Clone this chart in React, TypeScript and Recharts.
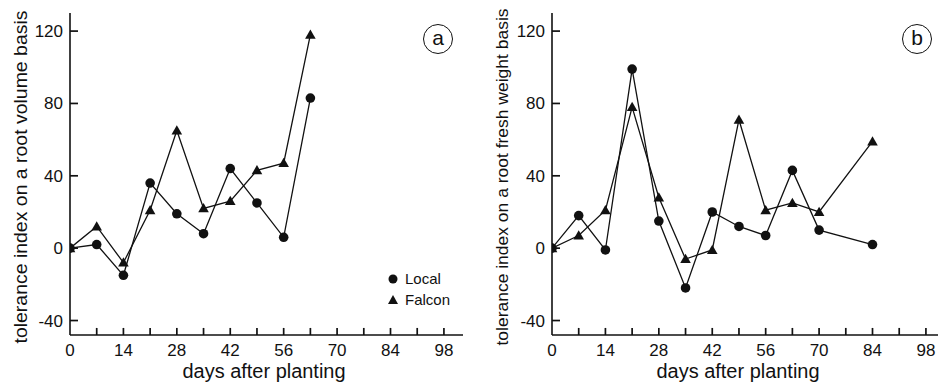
import { Legend, Line, LineChart, ReferenceLine, XAxis, YAxis } from "recharts";

const DAYS_A = [0, 7, 14, 21, 28, 35, 42, 49, 56, 63];
const LOCAL_A = [0, 2, -15, 36, 19, 8, 44, 25, 6, 83];
const FALCON_A = [0, 12, -8, 21, 65, 22, 26, 43, 47, 118];

const DAYS_B = [0, 7, 14, 21, 28, 35, 42, 49, 56, 63, 70, 84];
const LOCAL_B = [0, 18, -1, 99, 15, -22, 20, 12, 7, 43, 10, 2];
const FALCON_B = [0, 7, 21, 78, 28, -6, -1, 71, 21, 25, 20, 59];

const X_TICKS = [0, 7, 14, 21, 28, 35, 42, 49, 56, 63, 70, 77, 84, 91, 98];
const Y_TICKS = [-40, 0, 40, 80, 120];
const X_DOMAIN = [0, 103];
const Y_DOMAIN = [-48, 130];

// inward tick length, in axis units (about 7-8 px on screen)
const X_TICK_LEN = 3.9;
const Y_TICK_LEN = 2.1;

const FONT = "'Liberation Sans', Arial, Helvetica, sans-serif";
const INK = "#111";

function XTick({ x, y, payload }: any) {
  const v = payload.value;
  if (v % 14 !== 0) return <g />;
  return (
    <text x={x} y={y + 21} textAnchor="middle" fontSize={17} fontFamily={FONT} fill={INK}>
      {v}
    </text>
  );
}

function YTick({ x, y, payload }: any) {
  return (
    <text x={x - 7} y={y + 6} textAnchor="end" fontSize={17} fontFamily={FONT} fill={INK}>
      {payload.value}
    </text>
  );
}

function CircleDot({ cx, cy }: any) {
  return <circle cx={cx} cy={cy} r={4.8} fill={INK} stroke="none" />;
}

function TriDot({ cx, cy }: any) {
  const s = 5.3;
  return (
    <path
      d={`M${cx},${cy - s} L${cx + s},${cy + s * 0.75} L${cx - s},${cy + s * 0.75} Z`}
      fill={INK}
      stroke="none"
    />
  );
}

function LegendBox() {
  return (
    <div style={{ fontFamily: FONT, fontSize: 15, color: INK, lineHeight: "21px" }}>
      <div style={{ display: "flex", alignItems: "center" }}>
        <svg width={16} height={14}>
          <circle cx={7} cy={7} r={4.5} fill={INK} />
        </svg>
        <span style={{ marginLeft: 3 }}>Local</span>
      </div>
      <div style={{ display: "flex", alignItems: "center" }}>
        <svg width={16} height={14}>
          <path d="M7,2 L12,11 L2,11 Z" fill={INK} />
        </svg>
        <span style={{ marginLeft: 3 }}>Falcon</span>
      </div>
    </div>
  );
}

function Panel({
  days,
  local,
  falcon,
  width,
  yAxisWidth,
  yTitle,
  yTitleSize,
  yTitleLen,
  yTitleX,
  xTitleX,
  legend,
}: any) {
  const data = days.map((d: number, i: number) => ({ day: d, local: local[i], falcon: falcon[i] }));
  return (
    <LineChart width={width} height={389} data={data} margin={{ top: 13, right: 7, bottom: 0, left: 0 }}>
      <XAxis
        dataKey="day"
        type="number"
        domain={X_DOMAIN}
        ticks={X_TICKS}
        interval={0}
        height={54}
        tickSize={0}
        tickMargin={0}
        tickLine={false}
        tick={<XTick />}
        axisLine={{ stroke: INK, strokeWidth: 1.6 }}
        allowDataOverflow
        label={() => (
          <text
            x={xTitleX}
            y={378}
            textAnchor="middle"
            fontSize={20}
            fontFamily={FONT}
            fill={INK}
            textLength={163}
            lengthAdjust="spacingAndGlyphs"
          >
            days after planting
          </text>
        )}
      />
      <XAxis
        xAxisId="top"
        orientation="top"
        type="number"
        domain={X_DOMAIN}
        height={0}
        tick={false}
        tickLine={false}
        axisLine={{ stroke: INK, strokeWidth: 1.6 }}
      />
      <YAxis
        type="number"
        domain={Y_DOMAIN}
        ticks={Y_TICKS}
        interval={0}
        width={yAxisWidth}
        tickSize={0}
        tickMargin={0}
        tickLine={false}
        tick={<YTick />}
        axisLine={{ stroke: INK, strokeWidth: 1.6 }}
        allowDataOverflow
        label={() => (
          <text
            x={yTitleX}
            y={177}
            transform={`rotate(-90 ${yTitleX} 177)`}
            textAnchor="middle"
            fontSize={yTitleSize}
            fontFamily={FONT}
            fill={INK}
            textLength={yTitleLen}
            lengthAdjust="spacingAndGlyphs"
          >
            {yTitle}
          </text>
        )}
      />
      <YAxis
        yAxisId="right"
        orientation="right"
        type="number"
        domain={Y_DOMAIN}
        width={0}
        tick={false}
        tickLine={false}
        axisLine={{ stroke: INK, strokeWidth: 1.6 }}
      />
      {X_TICKS.slice(1).map((t) => (
        <ReferenceLine
          key={`xt${t}`}
          ifOverflow="visible"
          segment={[
            { x: t, y: Y_DOMAIN[0] },
            { x: t, y: Y_DOMAIN[0] + X_TICK_LEN },
          ]}
          stroke={INK}
          strokeWidth={1.7}
        />
      ))}
      {Y_TICKS.map((t) => (
        <ReferenceLine
          key={`yt${t}`}
          ifOverflow="visible"
          segment={[
            { x: X_DOMAIN[0], y: t },
            { x: X_DOMAIN[0] + Y_TICK_LEN, y: t },
          ]}
          stroke={INK}
          strokeWidth={1.7}
        />
      ))}
      {legend && (
        <Legend
          layout="vertical"
          align="center"
          verticalAlign="middle"
          content={<LegendBox />}
          wrapperStyle={{ position: "absolute", left: 386, top: 268, width: 80 }}
        />
      )}
      <Line
        dataKey="local"
        stroke={INK}
        strokeWidth={1.3}
        dot={(p: any) => <CircleDot key={`c${p.index}`} {...p} />}
        activeDot={false}
        isAnimationActive={false}
      />
      <Line
        dataKey="falcon"
        stroke={INK}
        strokeWidth={1.3}
        dot={(p: any) => <TriDot key={`t${p.index}`} {...p} />}
        activeDot={false}
        isAnimationActive={false}
      />
    </LineChart>
  );
}

function PanelTag({ left, letter }: { left: number; letter: string }) {
  return (
    <div
      style={{
        position: "absolute",
        left: left - 15,
        top: 24,
        width: 28,
        height: 28,
        border: `1.5px solid ${INK}`,
        borderRadius: "50%",
        fontFamily: FONT,
        fontSize: 21,
        lineHeight: "26px",
        textAlign: "center",
        color: INK,
      }}
    >
      {letter}
    </div>
  );
}

export default function App() {
  return (
    <div
      style={{
        position: "absolute",
        left: 0,
        top: 0,
        width: 938,
        height: 389,
        overflow: "hidden",
        background: "#fff",
      }}
    >
      <div style={{ position: "absolute", left: 0, top: 0 }}>
        <Panel
          days={DAYS_A}
          local={LOCAL_A}
          falcon={FALCON_A}
          width={470}
          yAxisWidth={70}
          yTitle="tolerance index on a root volume basis"
          yTitleSize={19}
          yTitleLen={333}
          yTitleX={27}
          xTitleX={264}
          legend
        />
      </div>
      <div style={{ position: "absolute", left: 468, top: 0 }}>
        <Panel
          days={DAYS_B}
          local={LOCAL_B}
          falcon={FALCON_B}
          width={484}
          yAxisWidth={84}
          yTitle="tolerance index on a root fresh weight basis"
          yTitleSize={17}
          yTitleLen={337}
          yTitleX={40}
          xTitleX={270}
        />
      </div>
      <PanelTag left={438} letter="a" />
      <PanelTag left={917} letter="b" />
    </div>
  );
}
